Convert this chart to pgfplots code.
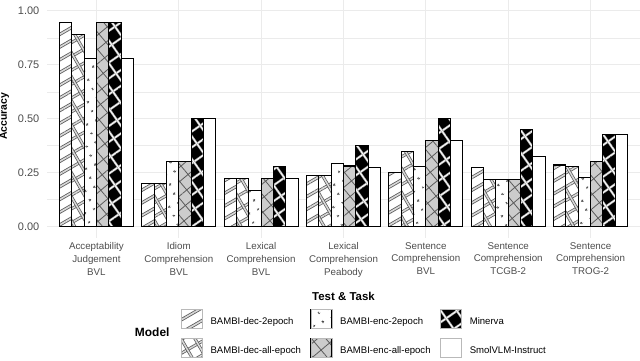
\documentclass[border=0pt]{standalone}
\usepackage{fontspec}
\setmainfont{Liberation Sans}
\usepackage{pgfplots}
\pgfplotsset{compat=1.18}
\usetikzlibrary{patterns.meta}

\definecolor{tick}{HTML}{4D4D4D}
\definecolor{grid}{HTML}{EBEBEB}
\definecolor{lineg}{HTML}{5A5A5A}
\definecolor{stripe}{HTML}{D9D9D9}
\definecolor{encgray}{HTML}{CCCCCC}

% double-edged stripes: angle, distance, outer width, inner width, outer colour, inner colour
\tikzset{
  dl/.style n args={6}{
    preaction={pattern={Lines[angle=#1,distance=#2,line width=#3]},pattern color=#5},
    preaction={pattern={Lines[angle=#1,distance=#2,line width=#4]},pattern color=#6}},
  sdec2/.style={preaction={fill=white}, dl={30}{11bp}{3.2bp}{1.6bp}{lineg}{stripe}},
  sdecall/.style={preaction={fill=white}, dl={30}{12bp}{3bp}{1.5bp}{lineg}{stripe},
    dl={120}{12bp}{3bp}{1.5bp}{lineg}{stripe}},
  senc2/.style={preaction={fill=white},
    preaction={pattern={Dots[distance=10bp,angle=25,radius=1.4bp]},pattern color=lineg!80!black}},
  sencall/.style={preaction={fill=encgray},
    preaction={pattern={Lines[angle=40,distance=11bp,line width=0.8bp]},pattern color=lineg},
    preaction={pattern={Lines[angle=130,distance=11bp,line width=0.8bp]},pattern color=lineg}},
  sminerva/.style={preaction={fill=black}, dl={35}{13bp}{2.3bp}{0.9bp}{gray!65}{white},
    dl={125}{13bp}{2.3bp}{0.9bp}{gray!65}{white}},
  ssmol/.style={preaction={fill=white}},
}

\pgfplotsset{
  mybar/.style={ybar, bar width=0.15, draw=black, line width=1.1bp,
    legend image code/.code={\draw[##1, draw=gray!55, line width=0.6bp] (0bp,-6.5bp) rectangle (21bp,12.5bp);}},
}

% one table per model, tasks at x = 0..6
\pgfplotstableread{
x y
0 0.944
1 0.200
2 0.222
3 0.238
4 0.250
5 0.273
6 0.286
}\decTwo
\pgfplotstableread{
x y
0 0.889
1 0.200
2 0.222
3 0.238
4 0.350
5 0.218
6 0.278
}\decAll
\pgfplotstableread{
x y
0 0.778
1 0.300
2 0.167
3 0.292
4 0.278
5 0.218
6 0.229
}\encTwo
\pgfplotstableread{
x y
0 0.944
1 0.300
2 0.222
3 0.281
4 0.400
5 0.218
6 0.300
}\encAll
\pgfplotstableread{
x y
0 0.944
1 0.500
2 0.278
3 0.375
4 0.500
5 0.450
6 0.429
}\minerva
\pgfplotstableread{
x y
0 0.778
1 0.500
2 0.222
3 0.273
4 0.400
5 0.327
6 0.429
}\smol

\begin{document}
\begin{tikzpicture}
\useasboundingbox (-47bp,-123.5bp) rectangle (593bp,237.5bp);
\begin{axis}[
  at={(0,0)}, anchor=south west,
  scale only axis, width=593bp, height=237.5bp,
  xmin=-0.6, xmax=6.6, ymin=-0.05, ymax=1.05,
  axis line style={draw=none}, tick style={draw=none},
  xtick={0,...,6},
  xticklabels={{Acceptability\\Judgement\\BVL}, {Idiom\\Comprehension\\BVL},
    {Lexical\\Comprehension\\BVL}, {Lexical\\Comprehension\\Peabody},
    {Sentence\\Comprehension\\BVL}, {Sentence\\Comprehension\\TCGB-2},
    {Sentence\\Comprehension\\TROG-2}},
  xticklabel style={align=center, font=\fontsize{9.8}{13}\selectfont, text=tick,
    inner sep=0pt, yshift=-4.5bp},
  ytick={0,0.25,0.5,0.75,1}, yticklabels={0.00,0.25,0.50,0.75,1.00},
  yticklabel style={font=\fontsize{11}{13}\selectfont, text=tick, inner sep=0pt, xshift=-7.5bp},
  minor ytick={0.125,0.375,0.625,0.875},
  xmajorgrids, ymajorgrids, yminorgrids,
  major grid style={color=grid, line width=1bp},
  minor grid style={color=grid, line width=0.5bp},
  xlabel={Test \& Task}, ylabel={Accuracy},
  xlabel style={font=\bfseries\fontsize{11.5}{13}\selectfont,
    at={(axis description cs:0.5,-0.246)}, anchor=center},
  ylabel style={font=\bfseries\fontsize{10.5}{12}\selectfont,
    at={(axis description cs:-0.0717,0.51)}, anchor=center},
  legend columns=3,
  legend cell align=left,
  legend style={at={(0.226,-0.301)}, anchor=north west, draw=none, fill=none,
    inner sep=0pt, outer sep=0pt, font=\fontsize{9.6}{11}\selectfont, row sep=9.5bp,
    nodes={inner sep=0pt, text width=93bp, align=left},
    /tikz/every odd column/.append style={column sep=8bp},
    /tikz/every even column/.append style={column sep=7bp}},
  extra description/.code={
    \node[anchor=east, font=\bfseries\fontsize{12}{14}\selectfont] at (0.2125,-0.398) {Model};},
]
% legend is row-major: dec-2epoch, enc-2epoch, Minerva / dec-all, enc-all, SmolVLM
\addplot[mybar, sdec2, bar shift=-0.375] table {\decTwo};
\addlegendentry{BAMBI-dec-2epoch}
\addplot[mybar, senc2, bar shift=-0.075] table {\encTwo};
\addlegendentry{BAMBI-enc-2epoch}
\addplot[mybar, sminerva, bar shift=0.225] table {\minerva};
\addlegendentry{Minerva}
\addplot[mybar, sdecall, bar shift=-0.225] table {\decAll};
\addlegendentry{BAMBI-dec-all-epoch}
\addplot[mybar, sencall, bar shift=0.075] table {\encAll};
\addlegendentry{BAMBI-enc-all-epoch}
\addplot[mybar, ssmol, bar shift=0.375] table {\smol};
\addlegendentry{SmolVLM-Instruct}
\end{axis}
\end{tikzpicture}
\end{document}
